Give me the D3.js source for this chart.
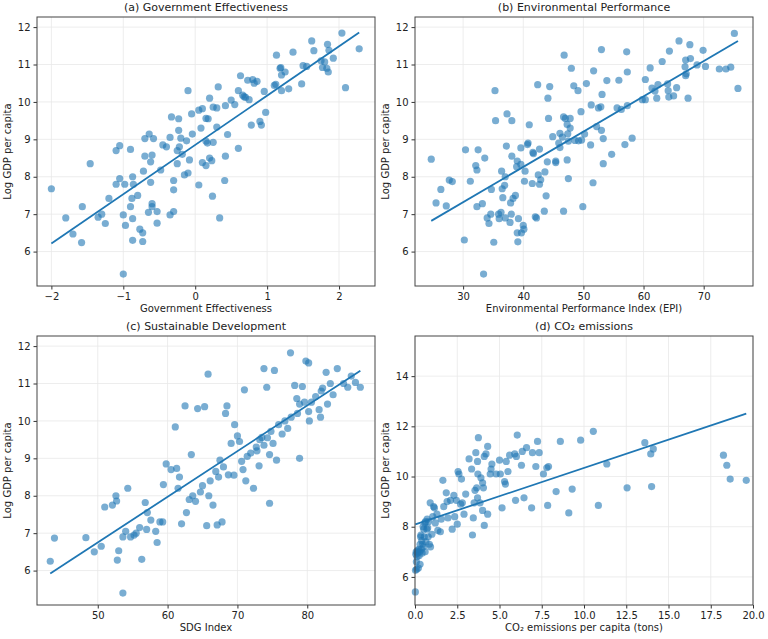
<!DOCTYPE html>
<html>
<head>
  <script src="https://unpkg.com/d3@7.8.2/dist/d3.min.js"></script>
  <style>body{margin:0;background:#fff}text{font-family:"DejaVu Sans",sans-serif;fill:#222}</style>
</head>
<body>
<script>
// (government effectiveness, log gdp)
const govData = [[-2.0,7.68],[-1.8,6.9],[-1.7,6.47],[-1.58,6.24],[-1.57,7.2],[-1.46,8.35],[-1.35,6.92],[-1.3,7.0],[-1.25,6.75],[-1.2,7.42],[-1.1,7.8],[-1.1,8.7],[-1.05,8.83],[-1.05,7.95],[-1.0,5.4],[-1.0,6.98],[-0.98,7.8],[-0.9,8.73],[-0.9,7.2],[-0.88,7.42],[-0.87,6.88],[-0.87,6.3],[-0.87,8.0],[-0.86,7.8],[-0.97,6.7],[-0.8,7.5],[-0.77,6.6],[-0.73,6.5],[-0.73,6.27],[-0.65,7.05],[-0.7,8.55],[-0.72,8.15],[-0.7,9.02],[-0.64,9.14],[-0.6,8.58],[-0.62,8.4],[-0.62,7.85],[-0.6,7.28],[-0.6,7.2],[-0.58,9.02],[-0.53,6.76],[-0.53,7.07],[-0.48,8.18],[-0.45,8.85],[-0.35,9.05],[-0.4,8.8],[-0.33,9.6],[-0.35,6.98],[-0.3,7.07],[-0.3,7.65],[-0.3,7.9],[-0.25,8.35],[-0.25,8.7],[-0.23,9.55],[-0.23,9.24],[-0.22,8.8],[-0.2,9.03],[-0.18,8.6],[-0.15,8.05],[-0.12,8.96],[-0.1,10.3],[-0.1,8.1],[-0.08,8.45],[-0.05,9.68],[-0.04,9.14],[0.05,9.78],[0.05,7.78],[0.08,9.3],[0.1,8.38],[0.1,9.82],[0.15,9.56],[0.15,8.3],[0.17,8.9],[0.18,9.55],[0.2,10.1],[0.2,8.5],[0.23,8.43],[0.24,7.48],[0.25,9.86],[0.25,8.92],[0.3,9.84],[0.3,9.33],[0.32,10.4],[0.34,6.9],[0.41,7.9],[0.42,8.55],[0.42,9.9],[0.45,9.13],[0.5,10.05],[0.55,9.93],[0.6,10.3],[0.6,8.76],[0.63,10.7],[0.66,10.18],[0.7,10.12],[0.73,10.58],[0.75,10.06],[0.78,9.38],[0.8,10.6],[0.82,10.5],[0.86,10.55],[0.9,9.48],[0.92,9.38],[0.96,10.28],[0.98,9.72],[1.1,10.44],[1.12,10.47],[1.13,11.25],[1.18,10.9],[1.2,10.72],[1.2,10.3],[1.25,10.8],[1.3,10.35],[1.36,11.33],[1.48,10.48],[1.5,10.97],[1.55,10.95],[1.62,11.63],[1.65,11.37],[1.75,11.1],[1.77,10.92],[1.8,11.07],[1.83,10.9],[1.84,11.54],[1.85,10.8],[1.86,11.38],[1.92,11.17],[2.04,11.84],[2.09,10.38],[2.28,11.42],[0.68,10.14],[1.19,10.92],[0.15,8.95]];

// (EPI, log gdp)
const epiData = [[24.7,8.47],[25.5,7.3],[26.3,7.66],[27.2,7.22],[27.7,7.91],[28.2,7.87],[30.2,6.31],[30.4,8.72],[31.2,7.88],[32.1,8.3],[32.3,8.18],[32.5,8.72],[32.3,7.2],[33.2,7.28],[33.4,5.4],[33.6,8.5],[34.0,6.9],[34.3,6.75],[34.6,7.0],[34.7,7.66],[35.1,6.25],[35.3,10.3],[35.4,9.5],[35.9,7.0],[36.0,6.88],[36.3,7.05],[36.4,8.15],[36.5,7.68],[36.6,7.44],[36.9,7.77],[37.0,8.0],[37.0,6.9],[37.2,8.82],[37.3,9.68],[37.8,6.78],[37.9,7.3],[38.0,7.0],[38.1,8.55],[38.1,9.5],[38.3,7.42],[38.7,7.5],[38.9,8.27],[39.0,8.42],[39.0,6.5],[39.1,6.26],[39.2,6.88],[39.6,8.77],[39.6,8.33],[39.7,6.5],[40.0,6.7],[40.1,6.6],[40.2,7.88],[40.3,8.15],[40.7,8.86],[40.8,8.9],[41.0,9.39],[41.5,7.82],[41.6,8.65],[41.7,8.62],[42.0,6.93],[42.2,6.9],[42.4,10.46],[42.5,8.05],[42.7,8.74],[42.7,7.8],[42.9,7.92],[43.5,7.08],[43.6,8.13],[43.8,7.49],[44.0,8.4],[44.1,10.1],[44.2,9.56],[44.4,10.41],[44.9,9.07],[45.4,8.38],[45.4,8.42],[45.9,8.9],[46.1,9.16],[46.1,8.78],[46.5,9.06],[46.7,9.6],[46.7,7.08],[46.8,11.25],[47.0,9.56],[47.3,8.45],[47.3,9.4],[47.4,9.15],[47.5,7.95],[47.5,8.95],[47.8,9.3],[47.8,9.56],[48.0,10.9],[48.4,10.43],[48.6,8.97],[49.1,10.3],[49.2,8.96],[49.6,9.74],[49.7,8.98],[49.9,7.2],[50.2,9.14],[50.5,10.49],[51.2,8.85],[51.3,9.92],[51.6,7.84],[51.7,10.83],[52.2,9.34],[52.5,9.84],[52.9,9.87],[53.0,11.4],[53.0,9.24],[53.1,10.2],[53.3,9.02],[53.3,8.35],[53.9,10.57],[54.7,8.6],[55.6,9.84],[55.9,10.58],[56.3,9.8],[56.9,8.86],[57.2,11.34],[57.3,10.8],[57.3,9.9],[58.1,9.03],[59.8,10.06],[60.3,10.06],[60.3,10.6],[61.1,10.91],[61.4,10.37],[61.9,10.29],[62.2,10.1],[62.4,10.46],[63.1,11.08],[64.0,10.48],[64.1,10.3],[64.2,10.13],[64.3,11.36],[65.0,10.16],[65.5,10.38],[65.9,11.63],[66.9,10.94],[67.0,11.12],[67.0,10.7],[67.1,10.75],[67.4,10.1],[67.7,11.53],[67.8,11.16],[68.9,10.99],[69.9,11.38],[70.3,10.95],[72.6,10.88],[73.7,10.88],[74.5,10.93],[75.1,11.83],[75.7,10.36]];

// (SDG index, log gdp)
const sdgData = [[43.2,6.25],[43.8,6.87],[48.3,6.88],[49.5,6.5],[50.5,6.65],[51.0,7.7],[52.6,8.0],[52.7,7.86],[52.8,6.28],[53.0,6.53],[53.6,5.4],[53.6,6.9],[54.0,7.05],[54.3,8.2],[54.7,6.9],[55.2,6.95],[55.5,7.0],[56.0,7.15],[56.3,6.3],[56.8,7.82],[57.1,7.55],[57.0,7.1],[58.3,7.05],[58.5,6.75],[58.9,7.3],[59.3,7.3],[59.4,8.3],[59.8,8.85],[60.5,8.7],[61.1,9.84],[61.3,8.73],[61.7,8.5],[62.0,7.25],[62.5,10.4],[62.7,7.55],[63.1,7.9],[63.4,9.1],[63.6,8.0],[64.0,7.85],[64.3,10.33],[64.7,8.1],[65.0,8.27],[65.3,10.38],[65.6,7.2],[65.8,11.25],[66.1,8.4],[66.5,7.75],[66.9,8.65],[67.1,7.22],[67.3,8.5],[67.5,8.95],[67.8,7.3],[68.0,8.77],[68.3,10.2],[68.5,10.4],[68.7,8.56],[69.1,9.4],[69.5,8.55],[69.6,9.9],[70.0,9.6],[70.3,9.45],[70.6,8.92],[71.0,10.83],[71.2,8.4],[71.4,9.05],[71.9,9.14],[72.3,8.2],[72.7,9.3],[73.1,8.8],[73.2,9.5],[73.5,9.56],[73.8,11.4],[73.8,9.35],[74.2,10.9],[74.3,9.55],[74.6,9.1],[74.6,7.8],[75.1,9.4],[75.3,11.35],[75.6,8.95],[75.9,9.9],[76.4,9.65],[76.8,10.0],[77.2,9.8],[77.6,11.82],[77.7,10.1],[78.2,10.95],[78.5,10.6],[78.6,10.2],[78.9,9.0],[78.9,10.45],[79.3,10.92],[79.8,11.6],[80.2,11.55],[80.3,10.0],[80.6,10.5],[81.2,10.65],[81.7,10.3],[81.9,10.1],[82.0,10.8],[82.2,10.88],[82.7,11.3],[82.9,10.45],[83.3,11.0],[83.7,10.7],[84.3,11.4],[85.2,11.0],[85.8,10.9],[86.3,11.2],[86.9,11.03],[87.6,10.9],[80.2,10.25],[79.6,10.5],[72.8,9.2],[70.8,8.7],[65.9,8.0],[61.5,8.2],[57.6,7.35],[52.1,7.75],[74.8,9.72]];

// (co2 per capita, log gdp)
const co2Data = [[0.02,5.4],[0.03,6.26],[0.05,6.9],[0.07,7.0],[0.08,6.6],[0.1,6.3],[0.12,6.8],[0.14,7.05],[0.15,6.95],[0.18,7.0],[0.2,6.35],[0.22,7.1],[0.25,6.85],[0.28,7.0],[0.3,6.5],[0.3,7.3],[0.33,7.6],[0.35,7.67],[0.38,7.1],[0.4,7.45],[0.42,6.95],[0.45,7.3],[0.48,8.0],[0.5,7.2],[0.52,7.9],[0.55,7.6],[0.58,8.15],[0.6,7.0],[0.62,8.2],[0.65,7.4],[0.7,7.9],[0.72,8.3],[0.75,7.95],[0.78,7.6],[0.8,8.2],[0.85,7.3],[0.9,8.95],[0.92,7.2],[1.0,7.7],[1.05,8.4],[1.1,8.8],[1.15,8.75],[1.2,8.15],[1.3,8.5],[1.35,7.85],[1.5,7.8],[1.55,8.3],[1.65,9.85],[1.7,8.8],[1.85,9.35],[1.9,9.0],[1.95,8.35],[2.1,9.05],[2.2,7.9],[2.3,9.25],[2.35,8.4],[2.45,9.05],[2.5,8.1],[2.55,10.2],[2.6,10.1],[2.7,8.9],[2.75,9.9],[2.8,8.95],[2.9,8.5],[3.0,9.3],[3.2,10.7],[3.35,10.3],[3.4,7.67],[3.45,8.35],[3.5,8.95],[3.55,9.45],[3.6,10.95],[3.65,9.55],[3.7,10.6],[3.7,9.15],[3.72,10.1],[3.75,11.55],[3.85,8.95],[3.9,9.95],[4.0,9.75],[4.0,8.65],[4.05,9.55],[4.1,10.8],[4.1,8.05],[4.2,10.9],[4.3,11.2],[4.3,8.5],[4.45,10.1],[4.5,10.3],[4.55,10.5],[4.8,10.1],[5.0,10.65],[5.05,10.1],[5.15,8.75],[5.3,9.8],[5.35,9.7],[5.4,10.6],[5.5,10.2],[5.6,10.85],[5.9,10.9],[5.95,9.05],[6.0,10.8],[6.05,11.65],[6.3,10.45],[6.35,11.0],[6.45,9.15],[6.6,11.15],[6.9,8.75],[6.95,10.95],[7.15,10.4],[7.25,11.4],[7.35,10.95],[7.6,10.1],[7.8,10.35],[7.85,8.85],[7.9,10.4],[8.35,9.4],[8.6,11.4],[9.1,8.55],[9.3,9.5],[9.8,11.45],[10.55,11.8],[10.85,8.85],[11.35,10.5],[12.55,9.55],[13.6,11.35],[13.95,10.9],[14.0,9.6],[14.1,11.1],[18.25,10.85],[18.45,10.45],[18.65,9.9],[19.6,9.85]];

const panels = [
  {data: govData, title: "(a) Government Effectiveness", xlabel: "Government Effectiveness",
   xd: [-2.2, 2.5], yd: [5.08, 12.27], xt: [-2, -1, 0, 1, 2], yt: [6, 7, 8, 9, 10, 11, 12], fmt: d3.format("d"), left: 37, top: 17},
  {data: epiData, title: "(b) Environmental Performance", xlabel: "Environmental Performance Index (EPI)",
   xd: [22.0, 78.2], yd: [5.08, 12.27], xt: [30, 40, 50, 60, 70], yt: [6, 7, 8, 9, 10, 11, 12], fmt: d3.format("d"), left: 415, top: 17},
  {data: sdgData, title: "(c) Sustainable Development", xlabel: "SDG Index",
   xd: [41.3, 89.7], yd: [5.08, 12.27], xt: [50, 60, 70, 80], yt: [6, 7, 8, 9, 10, 11, 12], fmt: d3.format("d"), left: 37, top: 336},
  {data: co2Data, title: "(d) CO₂ emissions", xlabel: "CO₂ emissions per capita (tons)",
   xd: [0, 20], yd: [4.88, 15.6], xt: [0, 2.5, 5, 7.5, 10, 12.5, 15, 17.5, 20], yt: [6, 8, 10, 12, 14], fmt: d3.format(".1f"), left: 415, top: 336}
];

const W = 338, H = 269;
const svg = d3.select("body").append("svg").attr("width", 768).attr("height", 639);

panels.forEach(p => {
  const g = svg.append("g").attr("transform", `translate(${p.left},${p.top})`);
  const x = d3.scaleLinear().domain(p.xd).range([0, W]);
  const y = d3.scaleLinear().domain(p.yd).range([H, 0]);

  // grid
  g.selectAll(".gx").data(p.xt).enter().append("line")
    .attr("x1", d => x(d)).attr("x2", d => x(d)).attr("y1", 0).attr("y2", H)
    .style("stroke", "#e8e8e8").style("stroke-width", 0.8);
  g.selectAll(".gy").data(p.yt).enter().append("line")
    .attr("y1", d => y(d)).attr("y2", d => y(d)).attr("x1", 0).attr("x2", W)
    .style("stroke", "#e8e8e8").style("stroke-width", 0.8);

  // points
  g.selectAll("circle").data(p.data).enter().append("circle")
    .attr("cx", d => x(d[0])).attr("cy", d => y(d[1])).attr("r", 3.6)
    .style("fill", "#1f77b4").style("fill-opacity", 0.6);

  // least squares fit
  const mx = d3.mean(p.data, d => d[0]), my = d3.mean(p.data, d => d[1]);
  const slope = d3.sum(p.data, d => (d[0] - mx) * (d[1] - my)) / d3.sum(p.data, d => (d[0] - mx) ** 2);
  const ext = d3.extent(p.data, d => d[0]);
  g.append("line")
    .attr("x1", x(ext[0])).attr("y1", y(my + slope * (ext[0] - mx)))
    .attr("x2", x(ext[1])).attr("y2", y(my + slope * (ext[1] - mx)))
    .style("stroke", "#1f77b4").style("stroke-width", 1.8);

  // axes
  const xa = g.append("g").attr("transform", `translate(0,${H})`)
    .call(d3.axisBottom(x).tickValues(p.xt).tickFormat(d => d < 0 ? "−" + p.fmt(-d) : p.fmt(d)).tickSize(3.5));
  const ya = g.append("g").call(d3.axisLeft(y).tickValues(p.yt).tickFormat(d3.format("d")).tickSize(3.5));
  [xa, ya].forEach(a => {
    a.select(".domain").remove();
    a.selectAll("text").style("font-size", "10px").style("fill", "#222");
    a.selectAll("line").style("stroke", "#333");
  });
  g.append("rect").attr("width", W).attr("height", H)
    .style("fill", "none").style("stroke", "#444").style("stroke-width", 1);

  g.append("text").attr("x", W / 2).attr("y", -6).attr("text-anchor", "middle")
    .style("font-size", "11px").text(p.title);
  g.append("text").attr("x", W / 2).attr("y", H + 26).attr("text-anchor", "middle")
    .style("font-size", "10px").text(p.xlabel);
  g.append("text").attr("transform", `translate(${-26},${H / 2}) rotate(-90)`).attr("text-anchor", "middle")
    .style("font-size", "10px").text("Log GDP per capita");
});
</script>
</body>
</html>
